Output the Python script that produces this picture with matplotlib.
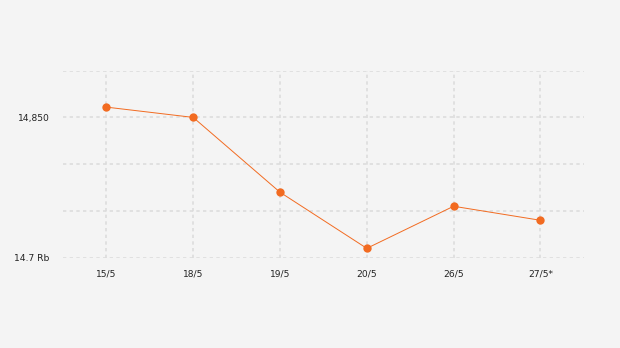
import matplotlib.pyplot as plt
import numpy as np

# data
dates = ["15/5", "18/5", "19/5", "20/5", "26/5", "27/5*"]
prices = [14.861, 14.850, 14.770, 14.710, 14.755, 14.740]
yticks = [14.70, 14.75, 14.80, 14.85, 14.90]
ytick_labels = ["14.7 Rb", "", "", "14,850", ""]

bg = "#f4f4f4"
orange = "#f26b21"
grid_col = "#dcdcdc"

fig = plt.figure(figsize=(6.2, 3.48), dpi=100, facecolor=bg)
ax = fig.add_axes([0.1016, 0.2595, 0.8400, 0.5375], facecolor=bg)

x = np.arange(len(dates))
ax.plot(x, prices, color=orange, linewidth=0.7, marker="o",
        markersize=6, markeredgewidth=0, zorder=3)

ax.set_xlim(-0.5, len(dates) - 0.5)
ax.set_ylim(yticks[0], yticks[-1])
ax.set_xticks(x)
ax.set_xticklabels(dates)
ax.set_yticks(yticks)
ax.set_yticklabels(ytick_labels)

ax.grid(True, color=grid_col, linestyle=(0, (2, 2)), linewidth=1.2, zorder=0)
ax.set_axisbelow(True)
for s in ax.spines.values():
    s.set_visible(False)
ax.tick_params(axis="both", length=0, labelsize=6.6, colors="#222222")
ax.tick_params(axis="y", pad=9.5)
ax.tick_params(axis="x", pad=8.5)

plt.savefig("out.png", dpi=100, facecolor=bg)
